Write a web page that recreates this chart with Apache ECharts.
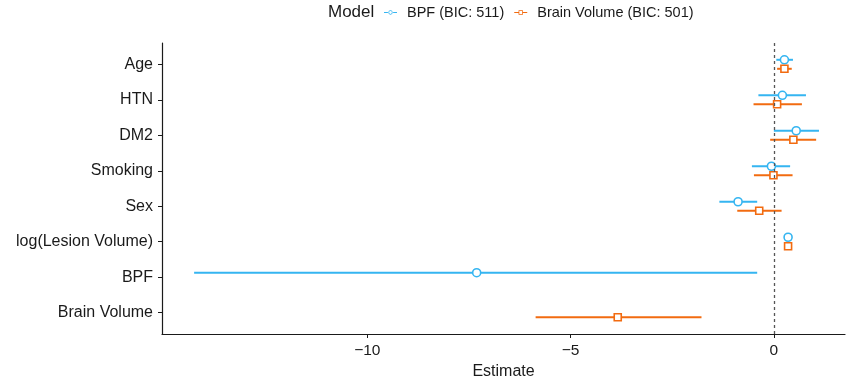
<!DOCTYPE html>
<html>
<head>
<meta charset="utf-8">
<script src="https://cdn.jsdelivr.net/npm/echarts@6/dist/echarts.min.js"></script>
<style>
  html, body { margin: 0; padding: 0; background: #fff; }
  #main { width: 857px; height: 378px; }
</style>
</head>
<body>
<div id="main"></div>
<script>
var categories = ['Age', 'HTN', 'DM2', 'Smoking', 'Sex', 'log(Lesion Volume)', 'BPF', 'Brain Volume'];
var bpfEst  = [0.26, 0.21, 0.55, -0.06, -0.88, 0.35, -7.31, null];
var bpfLow  = [0.06, -0.38, 0.00, -0.54, -1.34, 0.26, -14.26, null];
var bpfHigh = [0.47, 0.79, 1.11, 0.40, -0.41, 0.44, -0.41, null];
var bvEst   = [0.26, 0.08, 0.48, -0.01, -0.36, 0.35, null, -3.84];
var bvLow   = [0.08, -0.50, -0.09, -0.49, -0.90, 0.28, null, -5.86];
var bvHigh  = [0.44, 0.69, 1.04, 0.46, 0.19, 0.43, null, -1.78];
var xTicks = [-10, -5, 0];

var blue = '#35b5f1';
var orange = '#f26b10';

function build(low, high, est) {
  var out = [];
  for (var i = 0; i < categories.length; i++) {
    if (est[i] == null) continue;
    out.push([low[i], high[i], est[i], i]);
  }
  return out;
}

function makeRender(off, color, square) {
  return function (params, api) {
    var idx = api.value(3);
    var a = api.coord([api.value(0), idx]);
    var b = api.coord([api.value(1), idx]);
    var p = api.coord([api.value(2), idx]);
    var y = a[1] + off;
    var marker = square
      ? { type: 'rect', shape: { x: p[0] - 3.5, y: y - 3.5, width: 7, height: 7 },
          style: { fill: '#fff', stroke: color, lineWidth: 1.6 } }
      : { type: 'circle', shape: { cx: p[0], cy: y, r: 4 },
          style: { fill: '#fff', stroke: color, lineWidth: 1.6 } };
    return {
      type: 'group',
      children: [
        { type: 'line', shape: { x1: a[0], y1: y, x2: b[0], y2: y },
          style: { stroke: color, lineWidth: 2 } },
        marker
      ]
    };
  };
}

var circleIcon = 'path://M0 3.3H7.2V4.7H0Z M16.8 3.3H24V4.7H16.8Z M16 4A4 4 0 1 1 8 4A4 4 0 1 1 16 4Z M14.6 4A2.6 2.6 0 1 0 9.4 4A2.6 2.6 0 1 0 14.6 4Z';
var squareIcon = 'path://M0 3.3H8V4.7H0Z M16 3.3H24V4.7H16Z M8 0H16V8H8Z M9.4 1.4V6.6H14.6V1.4Z';

var myChart = echarts.init(document.getElementById('main'));
var option = {
  backgroundColor: '#fff',
  animation: false,
  title: {
    text: 'Model',
    left: 323, top: -1,
    textStyle: { fontFamily: 'Liberation Sans', fontSize: 17, fontWeight: 'normal', color: '#1a1a1a' }
  },
  legend: {
    left: 379, top: 0,
    itemWidth: 13, itemHeight: 6, itemGap: 10,
    textStyle: { fontFamily: 'Liberation Sans', fontSize: 14.5, color: '#1a1a1a', padding: [0, 0, 0, 5] },
    data: [
      { name: 'BPF (BIC: 511)', icon: circleIcon },
      { name: 'Brain Volume (BIC: 501)', icon: squareIcon }
    ]
  },
  grid: { left: 162, right: 12, top: 43, bottom: 44, containLabel: false, outerBoundsMode: 'none' },
  xAxis: {
    type: 'value',
    min: -15.05, max: 1.75,
    name: 'Estimate',
    nameLocation: 'middle',
    nameGap: 30,
    nameTextStyle: { fontFamily: 'Liberation Sans', fontSize: 16, color: '#1a1a1a' },
    axisLine: { onZero: false, lineStyle: { color: '#1a1a1a', width: 1.2 } },
    axisTick: { show: true, length: 4, customValues: xTicks, lineStyle: { color: '#1a1a1a' } },
    axisLabel: {
      customValues: xTicks, margin: 9,
      fontFamily: 'Liberation Sans', fontSize: 15.5, color: '#1a1a1a',
      formatter: function (v) { return v < 0 ? '\u2212' + Math.abs(v) : String(v); }
    },
    splitLine: { show: false }
  },
  yAxis: {
    type: 'value',
    inverse: true,
    min: -0.6, max: 7.6,
    axisLine: { show: true, onZero: false, lineStyle: { color: '#1a1a1a', width: 1.2 } },
    axisTick: { show: true, length: 4, customValues: [0, 1, 2, 3, 4, 5, 6, 7], lineStyle: { color: '#1a1a1a' } },
    axisLabel: {
      customValues: [0, 1, 2, 3, 4, 5, 6, 7], margin: 9,
      fontFamily: 'Liberation Sans', fontSize: 16, color: '#1a1a1a',
      formatter: function (v) { return categories[Math.round(v)]; }
    },
    splitLine: { show: false }
  },
  series: [
    {
      name: 'BPF (BIC: 511)',
      type: 'custom',
      itemStyle: { color: blue },
      renderItem: makeRender(-4.5, blue, false),
      encode: { x: [0, 1, 2], y: 3 },
      data: build(bpfLow, bpfHigh, bpfEst),
      markLine: {
        silent: true, symbol: 'none',
        label: { show: false },
        lineStyle: { color: '#555', type: [3, 3], width: 1.3 },
        data: [{ xAxis: 0 }]
      },
      z: 3
    },
    {
      name: 'Brain Volume (BIC: 501)',
      type: 'custom',
      itemStyle: { color: orange },
      renderItem: makeRender(4.5, orange, true),
      encode: { x: [0, 1, 2], y: 3 },
      data: build(bvLow, bvHigh, bvEst),
      z: 3
    }
  ]
};
myChart.setOption(option);
</script>
</body>
</html>
